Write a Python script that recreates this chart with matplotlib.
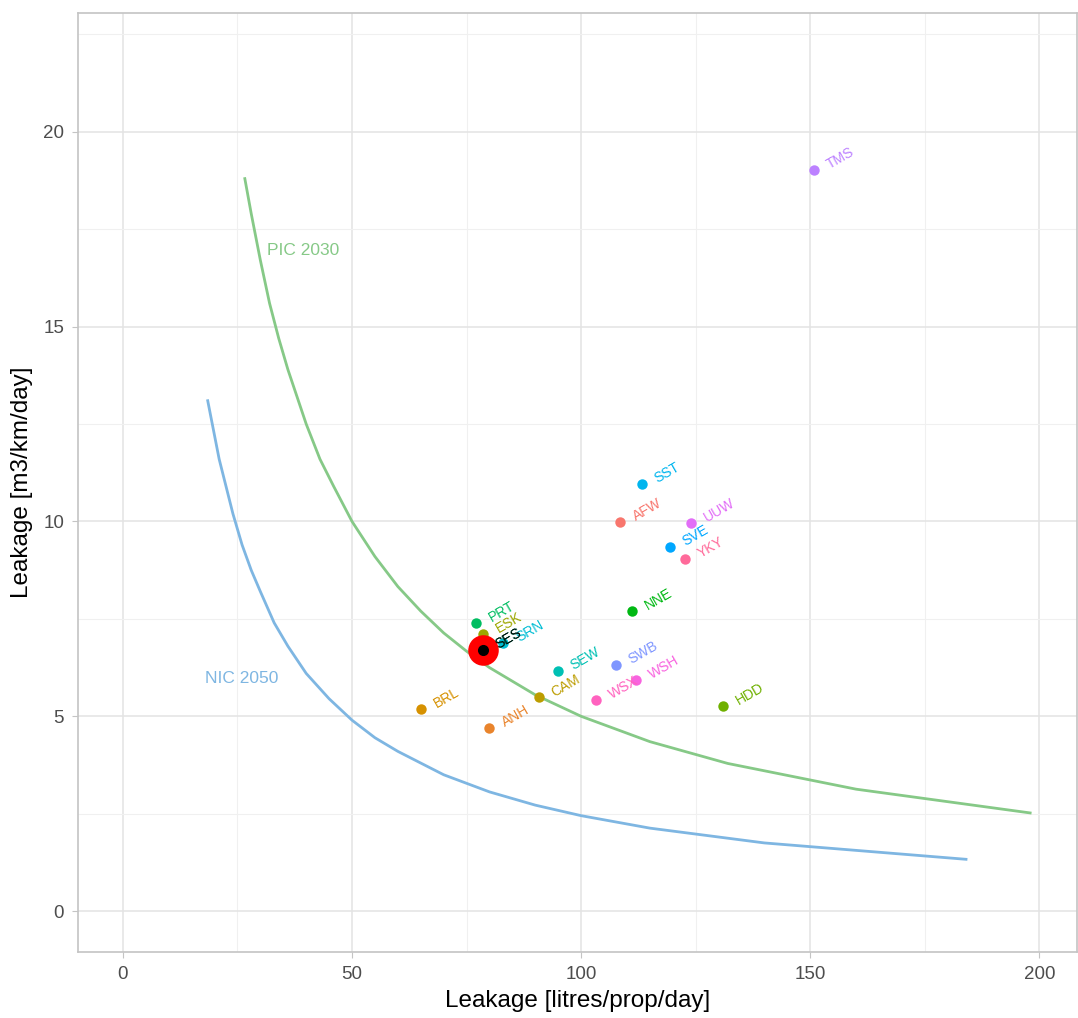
import numpy as np
import matplotlib
matplotlib.use("Agg")
import matplotlib.pyplot as plt

plt.rcParams['font.family'] = ['Liberation Sans', 'DejaVu Sans']

# company points: leakage per property vs per km of main
companies = ["AFW", "ANH", "BRL", "CAM", "ESK", "HDD", "NNE", "PRT", "SES", "SEW",
             "SRN", "SST", "SVE", "SWB", "TMS", "UUW", "WSH", "WSX", "YKY"]
l_prop = [108.4, 80.0, 65.0, 90.7, 78.5, 130.9, 111.0, 77.0, 78.5, 94.9,
          83.0, 113.2, 119.3, 107.5, 150.9, 123.9, 111.9, 103.2, 122.6]
l_km = [9.99, 4.70, 5.19, 5.49, 7.11, 5.26, 7.70, 7.39, 6.70, 6.16,
        6.88, 10.96, 9.35, 6.32, 19.02, 9.96, 5.93, 5.42, 9.04]

highlight = "SES"

# target curves
pic_x = [26.6, 28, 30, 32, 34, 36, 38, 40, 43, 46, 50, 55, 60, 65, 70, 75, 80,
         90, 100, 115, 132, 160, 198]
pic_y = [18.8, 17.9, 16.7, 15.6, 14.7, 13.9, 13.2, 12.5, 11.6, 10.9, 10.0, 9.1, 8.33,
         7.7, 7.14, 6.67, 6.25, 5.55, 5.0, 4.35, 3.79, 3.13, 2.52]
nic_x = [18.5, 19.5, 21, 22.5, 24, 26, 28, 30, 33, 36, 40, 45, 50, 55, 60, 70, 80,
         90, 100, 115, 140, 184]
nic_y = [13.1, 12.5, 11.6, 10.9, 10.2, 9.4, 8.75, 8.2, 7.4, 6.8, 6.1, 5.45, 4.9, 4.45,
         4.1, 3.5, 3.06, 2.72, 2.45, 2.13, 1.75, 1.33]


def hue_colors(n, l=65, c=100):
    # ggplot-style hue palette (polar LUV -> sRGB)
    hues = np.linspace(15, 375, n + 1)[:n]
    out = []
    Y = ((l + 16) / 116) ** 3
    un, vn = 0.1978398, 0.4683363
    M = np.array([[3.2404542, -1.5371385, -0.4985314],
                  [-0.9692660, 1.8760108, 0.0415560],
                  [0.0556434, -0.2040259, 1.0572252]])
    for h in hues:
        u = c * np.cos(np.radians(h))
        v = c * np.sin(np.radians(h))
        up = u / (13 * l) + un
        vp = v / (13 * l) + vn
        X = Y * 9 * up / (4 * vp)
        Z = Y * (12 - 3 * up - 20 * vp) / (4 * vp)
        rgb = M @ np.array([X, Y, Z])
        rgb = np.where(rgb <= 0.0031308, 12.92 * rgb,
                       1.055 * np.clip(rgb, 0, None) ** (1 / 2.4) - 0.055)
        out.append(tuple(np.clip(rgb, 0, 1)))
    return out


cols = hue_colors(len(companies))

fig = plt.figure(figsize=(10.78, 10.18), dpi=100)
ax = fig.add_axes([0.0724, 0.0648, 0.927, 0.9224])

ax.plot(pic_x, pic_y, color="#86c987", lw=2)
ax.plot(nic_x, nic_y, color="#7eb6e2", lw=2)
ax.text(31.5, 16.95, "PIC 2030", color="#86c987", fontsize=12.5, va="center")
ax.text(18, 5.98, "NIC 2050", color="#7eb6e2", fontsize=12.5, va="center")

for name, x, y, c in zip(companies, l_prop, l_km, cols):
    ax.plot(x, y, "o", color=c, ms=7.5, mec="none", zorder=3)
    ax.annotate(name, (x, y), xytext=(10, 3), textcoords="offset points",
                ha="left", va="center", rotation=30, rotation_mode="anchor",
                color=c, fontsize=10, zorder=4)

i = companies.index(highlight)
ax.plot(l_prop[i], l_km[i], "o", color="red", ms=22, mec="none", zorder=5)
ax.plot(l_prop[i], l_km[i], "o", color="black", ms=8, mec="none", zorder=6)
ax.annotate(highlight, (l_prop[i], l_km[i]), xytext=(10, 3), textcoords="offset points",
            ha="left", va="center", rotation=30, rotation_mode="anchor",
            color="black", fontsize=10, zorder=7)

ax.set_xlim(-9.8, 208.3)
ax.set_ylim(-1.05, 23.05)
ax.set_xticks([0, 50, 100, 150, 200])
ax.set_yticks([0, 5, 10, 15, 20])
ax.set_xticks([25, 75, 125, 175], minor=True)
ax.set_yticks([2.5, 7.5, 12.5, 17.5, 22.5], minor=True)
ax.grid(which="major", color="#e3e3e3", lw=1.1)
ax.grid(which="minor", color="#f0f0f0", lw=0.8)
ax.set_axisbelow(True)
for s in ax.spines.values():
    s.set_color("#c4c4c4")
    s.set_linewidth(1.2)
ax.tick_params(which="major", length=4, pad=6, color="#c4c4c4", labelsize=13.5,
               labelcolor="#4d4d4d")
ax.tick_params(which="minor", length=0)

ax.set_xlabel("Leakage [litres/prop/day]", fontsize=17.5, labelpad=5)
ax.set_ylabel("Leakage [m3/km/day]", fontsize=17.5, labelpad=7)

fig.savefig("out.png", dpi=100)
